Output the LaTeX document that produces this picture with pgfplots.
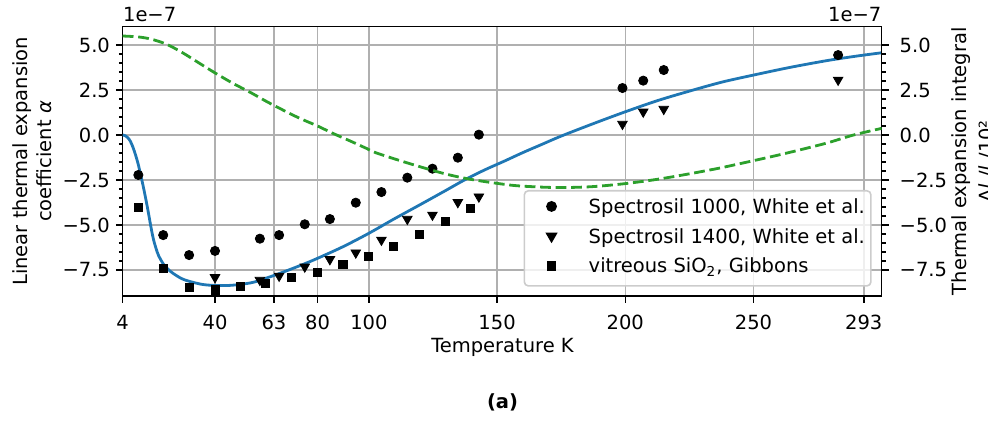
\documentclass[border=0pt]{standalone}
\usepackage{pgfplots}
\pgfplotsset{compat=1.18}
\usepackage{fontspec}
\setmainfont{DejaVu Sans}
\definecolor{mblue}{HTML}{1F77B4}
\definecolor{mgreen}{HTML}{2CA02C}
\definecolor{mgrid}{HTML}{B0B0B0}
\definecolor{mleg}{HTML}{CCCCCC}

\pgfplotstableread{
T a
10.1 -2.22
19.8 -5.56
29.9 -6.67
40.0 -6.44
57.5 -5.76
65.0 -5.56
75.0 -4.96
84.8 -4.67
94.9 -3.76
104.9 -3.17
115.0 -2.37
124.8 -1.87
134.7 -1.26
142.9 0.02
198.9 2.61
207.0 3.02
215.0 3.61
283.0 4.44
}\spectrosilA

\pgfplotstableread{
T a
40.0 -7.91
57.5 -8.06
65.0 -7.83
75.0 -7.32
84.8 -6.91
94.9 -6.54
104.9 -5.83
115.0 -4.67
124.8 -4.44
134.7 -3.74
142.9 -3.43
198.9 0.61
207.0 1.29
215.0 1.44
283.0 3.06
}\spectrosilB

\pgfplotstableread{
T a
10 -4.04
20 -7.41
30 -8.46
40 -8.61
50 -8.43
59.7 -8.24
69.8 -7.93
79.8 -7.63
89.9 -7.21
99.7 -6.74
109.7 -6.17
119.8 -5.52
129.8 -4.79
139.7 -4.06
}\gibbons

\pgfplotstableread{
T a
4 0
5 -0.04
6 -0.15
7 -0.35
8 -0.68
9 -1.1
10 -1.6
11 -2.2
12 -2.85
13 -3.55
14 -4.3
15 -5.1
16 -5.8
17 -6.3
18 -6.7
20 -7.2
22 -7.5
24 -7.72
27 -7.98
30 -8.13
35 -8.3
40 -8.36
45 -8.36
50 -8.3
55 -8.18
60 -7.95
65 -7.7
70 -7.43
75 -7.15
80 -6.85
90 -6.2
100 -5.46
110 -4.65
120 -3.87
130 -3.08
137 -2.52
145 -1.95
153 -1.44
160 -0.98
167 -0.55
175 -0.06
187.5 0.63
200 1.29
213 1.93
226.5 2.5
238 2.95
250 3.33
264 3.75
278.5 4.13
290 4.38
300 4.57
}\alphacurve

\pgfplotstableread{
T d
4 5.5
10 5.45
15 5.33
21 5.05
27 4.6
34 3.98
40 3.45
47 2.87
54 2.35
60 1.87
67 1.35
73 0.93
80 0.5
86 0.09
93 -0.35
99 -0.74
103 -1.0
115 -1.55
129 -2.13
140 -2.47
155 -2.78
165 -2.88
175 -2.92
187 -2.87
200 -2.7
213 -2.45
226 -2.13
237 -1.83
247 -1.52
258 -1.17
268 -0.83
279 -0.43
289 0.0
300 0.37
}\integralcurve

\begin{document}
\fontsize{9.75pt}{11.7pt}\selectfont
\begin{tikzpicture}
\path[use as bounding box] (-61.35pt,-62.5pt) rectangle (432.65pt,148pt);
\pgfplotsset{
  common/.style={
    scale only axis, width=379.5pt, height=134.65pt,
    at={(0pt,0pt)}, anchor=south west,
    xmin=4, xmax=300, ymin=-8.944, ymax=6.017,
    ytick={-7.5,-5,-2.5,0,2.5,5},
    yticklabels={−7.5,−5.0,−2.5,0.0,2.5,5.0},
    minor y tick num=4,
    tick align=outside,
    major tick length=3.4pt, minor tick length=1.95pt,
    major tick style={black, line width=0.78pt},
    minor tick style={black, line width=0.585pt},
    axis line style={black, line width=0.78pt, -},
  }
}
\begin{axis}[common,
  xtick={4,40,63,80,100,150,200,250,293},
  xticklabels={4,40,63,80,100,150,200,250,293},
  tick pos=left,
  grid=major, major grid style={mgrid, line width=0.78pt},
  xticklabel style={anchor=base, inner sep=0pt, yshift=-13.45pt},
  yticklabel style={anchor=east, inner sep=0pt, xshift=-2.8pt},
  legend cell align=left,
  legend style={at={(1,0)}, anchor=south east, xshift=-5pt, yshift=4.65pt,
    draw=mleg, line width=0.8pt, rounded corners=2pt,
    fill=white, fill opacity=0.8, draw opacity=1, text opacity=1,
    inner xsep=3pt, inner ysep=1.5pt, row sep=0pt, column sep=0pt,
    nodes={inner xsep=0pt, inner ysep=3pt, text height=6.9pt, text depth=1.95pt}},
  legend image code/.code={\path (-10.2pt,0pt) (18.2pt,0pt);
    \draw[#1, fill opacity=1, draw opacity=1] plot coordinates {(0pt,1.1pt)};},
]
\addplot[mblue, line width=1.4pt, smooth, forget plot] table[x=T, y=a] {\alphacurve};
\addplot[only marks, mark=*, mark size=2.3pt, black, mark options={fill=black, draw=black}] table[x=T, y=a] {\spectrosilA};
\addlegendentry{Spectrosil 1000, White et al.}
\addplot[only marks, mark=triangle*, mark size=2.75pt, black, mark options={fill=black, draw=black, rotate=180}] table[x=T, y=a] {\spectrosilB};
\addlegendentry{Spectrosil 1400, White et al.}
\addplot[only marks, mark=square*, mark size=2.05pt, black, mark options={fill=black, draw=black}] table[x=T, y=a] {\gibbons};
\addlegendentry{vitreous SiO\textsubscript{2}, Gibbons}
\end{axis}
\begin{axis}[common,
  hide x axis,
  axis y line*=right,
  ytick pos=right,
  yticklabel style={anchor=west, inner sep=0pt, xshift=5.4pt},
]
\addplot[mgreen, line width=1.4pt, smooth, dash pattern=on 5.4pt off 2.35pt] table[x=T, y=d] {\integralcurve};
\end{axis}
\node[anchor=base west, inner sep=0pt] at (0pt,137.15pt) {1e−7};
\node[anchor=base east, inner sep=0pt] at (379.5pt,137.15pt) {1e−7};
\node[anchor=base, inner sep=0pt] at (189.9pt,-28.35pt) {Temperature K};
\node[anchor=base, inner sep=0pt, font=\bfseries] at (189.9pt,-56.35pt) {(a)};
\node[rotate=90, anchor=base, inner sep=0pt] at (-47.6pt,67.3pt) {Linear thermal expansion};
\node[rotate=90, anchor=base, inner sep=0pt] at (-35.65pt,67.3pt) {coefficient \textit{α}};
\node[rotate=90, anchor=base, inner sep=0pt] at (421.9pt,67.3pt) {Thermal expansion integral};
\node[rotate=90, anchor=base, inner sep=0pt] at (435.6pt,67.3pt) {Δ\textit{l} /\textit{l} /10²};
\end{tikzpicture}
\end{document}
